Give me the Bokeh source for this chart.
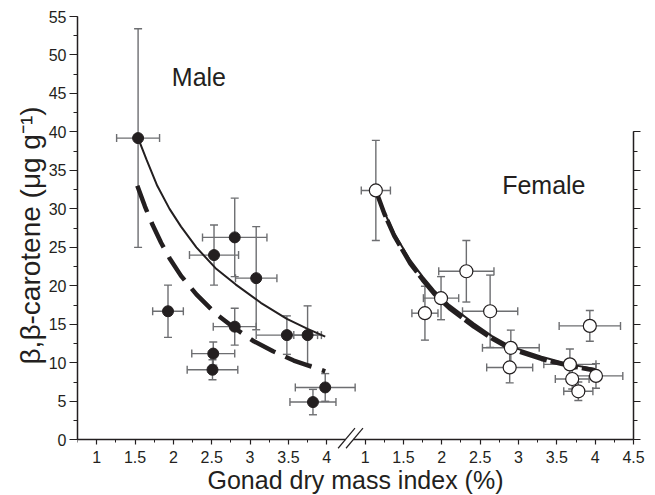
import numpy as np
from bokeh.plotting import figure
from bokeh.models import (LinearAxis, FixedTicker, SingleIntervalTicker, Range1d, Title,
                          Label, Arrow, BoxAnnotation, ColumnDataSource, CustomJSTickFormatter)
from bokeh.embed import file_html
from bokeh.resources import INLINE

# ---------------- data ----------------
# Male (filled circles)
male_x = [1.54, 2.80, 2.53, 3.08, 1.93, 2.80, 3.48, 3.75, 2.52, 2.51, 3.98, 3.82]
male_y = [39.2, 26.3, 24.0, 21.0, 16.7, 14.7, 13.6, 13.6, 11.2, 9.1, 6.8, 4.9]
male_xerr = [0.28, 0.42, 0.32, 0.27, 0.20, 0.28, 0.40, 0.18, 0.28, 0.33, 0.39, 0.30]
male_yerr = [14.2, 5.1, 3.9, 6.7, 3.4, 2.4, 2.5, 3.8, 1.5, 1.3, 1.8, 1.65]

# Female (open circles)
fem_x = [1.14, 2.32, 1.99, 1.78, 2.63, 2.90, 2.885, 3.93, 3.67, 4.01, 3.70, 3.78]
fem_y = [32.4, 21.9, 18.4, 16.45, 16.7, 11.95, 9.4, 14.8, 9.8, 8.3, 7.9, 6.3]
fem_xerr = [0.19, 0.36, 0.23, 0.17, 0.36, 0.37, 0.30, 0.40, 0.34, 0.35, 0.22, 0.19]
fem_yerr = [6.5, 4.0, 2.8, 3.5, 4.7, 2.3, 2.0, 2.0, 2.0, 1.6, 1.3, 1.2]

# Fitted curves
male_solid_x = [1.54, 1.65, 1.79, 1.95, 2.10, 2.30, 2.55, 2.81, 3.14, 3.48, 3.75, 3.98]
male_solid_y = [39.2, 36.4, 33.0, 30.0, 27.7, 25.0, 22.3, 20.2, 17.8, 15.7, 14.4, 13.4]
male_dash_x = [1.53, 1.63, 1.73, 1.84, 1.95, 2.10, 2.30, 2.55, 2.80, 3.05, 3.30, 3.57, 3.80, 3.98]
male_dash_y = [33.0, 30.3, 27.9, 25.6, 23.6, 21.3, 18.9, 16.4, 14.5, 12.8, 11.5, 10.3, 9.5, 8.9]
fem_solid_x = [1.14, 1.25, 1.38, 1.59, 1.75, 1.90, 2.10, 2.42, 2.65, 2.90, 3.30, 3.67, 4.00]
fem_solid_y = [32.4, 29.6, 26.8, 23.3, 21.2, 19.4, 17.5, 15.1, 13.5, 12.1, 10.8, 9.8, 9.2]
fem_dash_x = [1.14, 1.25, 1.38, 1.59, 1.75, 1.90, 2.10, 2.42, 2.65, 2.90, 3.30, 3.67, 4.00]
fem_dash_y = [32.4, 29.4, 26.5, 22.9, 20.8, 19.0, 17.1, 14.7, 13.2, 11.8, 10.5, 9.6, 9.0]

# Tick labels (left panel, then right panel after the axis break)
left_ticks = [1.0, 1.5, 2.0, 2.5, 3.0, 3.5, 4.0]
right_ticks = [1.0, 1.5, 2.0, 2.5, 3.0, 3.5, 4.0, 4.5]
left_labels = ["1", "1.5", "2", "2.5", "3", "3.5", "4"]
right_labels = ["1", "1.5", "2", "2.5", "3", "3.5", "4", "4.5"]

OFFSET = 3.5      # horizontal shift of the female panel on the shared axis
X_AXIS_END = 8.0  # female 4.5
INK = "#231f20"
ERR = "#6d6e71"
FONT = "Liberation Sans"

p = figure(width=653, height=495, x_range=Range1d(0.75, 8.208), y_range=Range1d(-7.24, 55),
           output_backend="svg", toolbar_location=None,
           min_border_left=77, min_border_right=4, min_border_top=16, min_border_bottom=0)
p.outline_line_color = None
p.xgrid.grid_line_color = None
p.ygrid.grid_line_color = None
p.background_fill_color = "white"

# ---- x axis (drawn at y = 0 inside the frame so the break marks can cross it) ----
major = left_ticks + [t + OFFSET for t in right_ticks]
minor = [t + 0.25 for t in left_ticks[:-1]] + [0.75] + [t + OFFSET + 0.25 for t in right_ticks[:-1]]
xa = p.xaxis[0]
xa.fixed_location = 0
xa.bounds = (0.75, X_AXIS_END)
xa.ticker = FixedTicker(ticks=major, minor_ticks=minor)
xa.major_label_overrides = {t: s for t, s in zip(major, left_labels + right_labels)}
xa.major_tick_out = 5
xa.major_tick_in = 0
xa.minor_tick_out = 3
xa.minor_tick_in = 0
xa.axis_line_width = 1.5
xa.axis_line_color = INK
xa.major_tick_line_color = INK
xa.minor_tick_line_color = INK
xa.major_tick_line_width = 1.2
xa.major_label_text_font = FONT
xa.major_label_text_font_size = "16px"
xa.major_label_text_color = INK
xa.major_label_standoff = 6
xa.axis_label = "Gonad dry mass index (%)"
xa.axis_label_text_font = FONT
xa.axis_label_text_font_size = "25px"
xa.axis_label_text_font_style = "normal"
xa.axis_label_text_color = INK
xa.axis_label_standoff = 0

# ---- y axis ----
ya = p.yaxis[0]
ya.bounds = (0, 55)
ya.ticker = SingleIntervalTicker(interval=5, num_minor_ticks=2)
ya.major_tick_out = 8
ya.major_tick_in = 0
ya.minor_tick_out = 4
ya.minor_tick_in = 0
ya.axis_line_width = 1.5
ya.axis_line_color = INK
ya.major_tick_line_color = INK
ya.minor_tick_line_color = INK
ya.major_tick_line_width = 1.2
ya.major_label_text_font = FONT
ya.major_label_text_font_size = "16px"
ya.major_label_text_color = INK
ya.major_label_standoff = 3

p.add_layout(Title(text="β,β-carotene (μg g⁻¹)", text_font=FONT, text_font_size="28px",
                   text_font_style="normal", text_color=INK, align="left",
                   offset=131, standoff=0), "left")

# ---- right axis (female panel, 0-40, unlabeled) ----
ra = LinearAxis(ticker=SingleIntervalTicker(interval=5, num_minor_ticks=2), bounds=(0, 40),
                fixed_location=X_AXIS_END)
ra.formatter = CustomJSTickFormatter(code="return ''")
ra.major_tick_out = 7
ra.major_tick_in = 0
ra.minor_tick_out = 4
ra.minor_tick_in = 0
ra.axis_line_width = 1.5
ra.axis_line_color = INK
ra.major_tick_line_color = INK
ra.minor_tick_line_color = INK
ra.major_tick_line_width = 1.2
p.add_layout(ra, "right")

# ---- axis break marks ----
p.add_layout(BoxAnnotation(left=4.243, right=4.347, bottom=-0.35, top=0.35,
                           fill_color="white", fill_alpha=1, line_color=None))
for xs, xe in [(4.148, 4.368), (4.251, 4.472)]:
    p.add_layout(Arrow(end=None, x_start=xs, y_start=-1.1, x_end=xe, y_end=1.5,
                       line_color=INK, line_width=1.2))

# ---- error bars ----
def error_bars(xv, yv, xe, ye, shift):
    x = np.array(xv) + shift
    y = np.array(yv)
    xe = np.array(xe)
    ye = np.array(ye)
    src = ColumnDataSource(dict(x=x, y=y, xl=x - xe, xh=x + xe, yl=y - ye, yh=y + ye))
    p.segment(x0="x", y0="yl", x1="x", y1="yh", source=src, line_color=ERR, line_width=1.4)
    p.segment(x0="xl", y0="y", x1="xh", y1="y", source=src, line_color=ERR, line_width=1.4)
    p.scatter(x="x", y="yl", source=src, marker="dash", size=8, line_color=ERR, line_width=1.4)
    p.scatter(x="x", y="yh", source=src, marker="dash", size=8, line_color=ERR, line_width=1.4)
    p.scatter(x="xl", y="y", source=src, marker="dash", size=8, angle=np.pi / 2,
              line_color=ERR, line_width=1.4)
    p.scatter(x="xh", y="y", source=src, marker="dash", size=8, angle=np.pi / 2,
              line_color=ERR, line_width=1.4)

error_bars(male_x, male_y, male_xerr, male_yerr, 0.0)
error_bars(fem_x, fem_y, fem_xerr, fem_yerr, OFFSET)

# ---- curves ----
p.line(male_solid_x, male_solid_y, line_color=INK, line_width=2)
p.line(male_dash_x, male_dash_y, line_color=INK, line_width=4.5, line_dash="28 11")
p.line([v + OFFSET for v in fem_dash_x], fem_dash_y, line_color=INK, line_width=4.5,
       line_dash="28 4")
p.line([v + OFFSET for v in fem_solid_x], fem_solid_y, line_color=INK, line_width=2)

# ---- points ----
p.scatter(male_x, male_y, marker="circle", size=11, fill_color=INK, line_color=INK)
p.scatter([v + OFFSET for v in fem_x], fem_y, marker="circle", size=13,
          fill_color="white", line_color=INK, line_width=1.2)

# ---- panel labels ----
p.add_layout(Label(x=1.98, y=47.1, text="Male", text_font=FONT, text_font_size="25px",
                   text_color=INK, text_baseline="alphabetic"))
p.add_layout(Label(x=2.787 + OFFSET, y=33.1, text="Female", text_font=FONT,
                   text_font_size="25px", text_color=INK, text_baseline="alphabetic"))

open("out.html", "w").write(file_html(p, INLINE))
